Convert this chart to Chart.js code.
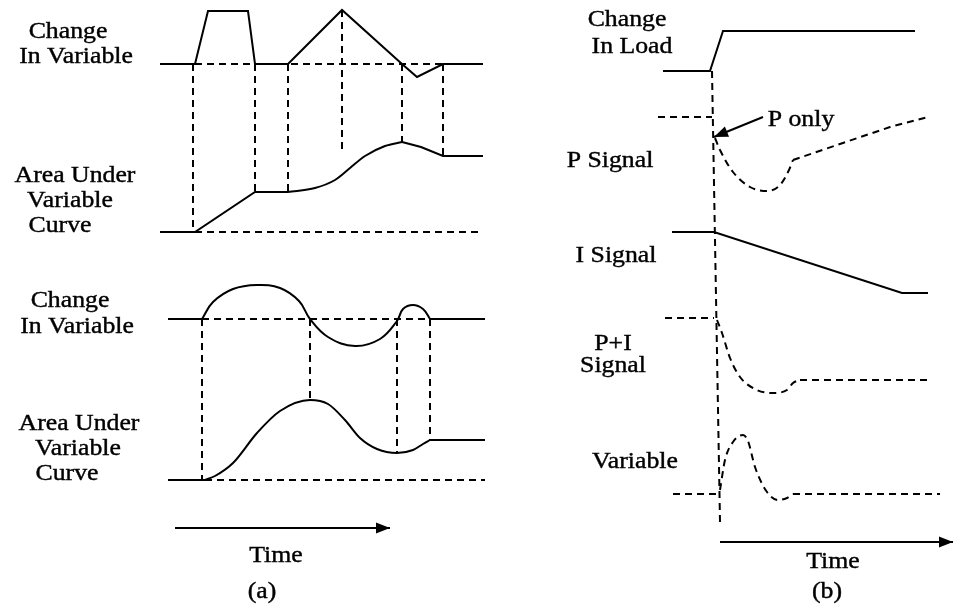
<!DOCTYPE html>
<html>
<head>
<meta charset="utf-8">
<script src="https://cdn.jsdelivr.net/npm/chart.js@4"></script>
<style>
html, body { margin: 0; padding: 0; background: #fff; }
#wrap { width: 954px; height: 608px; }
</style>
</head>
<body>
<div id="wrap"><canvas id="diagram"></canvas></div>
<script>
// (a) upper pair: rectangular / triangular change and its area
const aTopChange = [[160,64],[195,64],[208,11],[248,11],[255,64],[288,64],[342,10],[402,64],[417,77],[443,64],[483,64]];
const aTopAreaLine = [[160,232],[195,232],[255,192],[288,192]];
const aTopAreaCurve = [[288,192],[315,188],[335,180],[350,168],[365,156],[385,146],[402,142]];
const aTopAreaTail = [[402,142],[421,147],[443,156],[483,156]];
const aTopRef = [[195,64],[443,64]];
const aTopAreaRef = [[195,232],[483,232]];
const aTopDrops = [[193,64,232],[255,64,192],[288,64,192],[342,10,152],[402,64,142],[443,64,156]];

// (a) lower pair: smooth change and its area
const aBotChangeFlat1 = [[168,319],[202,319]];
const aBotChangeCurve = [[202,319],[213,302],[233,289],[257,285],[280,288],[299,301],[310,319],[328,337],[355,346],[380,339],[397,321],[403,309],[413,305],[423,309],[430,319]];
const aBotChangeFlat2 = [[430,319],[485,319]];
const aBotAreaFlat1 = [[168,480],[205,480]];
const aBotAreaCurve = [[205,480],[215,476],[233,463],[257,433],[280,411],[310,400],[328,404],[345,420],[360,438],[377,449],[397,453],[413,450],[423,444],[430,440]];
const aBotAreaFlat2 = [[430,440],[485,440]];
const aBotRef = [[202,319],[430,319]];
const aBotAreaRef = [[205,480],[485,480]];
const aBotDrops = [[202,319,480],[310,319,400],[397,319,453],[430,319,440]];

// (b) PI controller response to a load step
const bLoad = [[663,71],[710,71],[723,31],[915,31]];
const bStepLine = [[712,71],[720,522]];
const bPFlat = [[658,117],[712,117]];
const bPCurve = [[715,138],[720,150],[733,172],[750,187],[767,191],[780,185],[789,170],[793,160]];
const bPRamp = [[793,160],[890,127],[928,117]];
const bISignal = [[672,232],[714,232],[902,293],[928,293]];
const bPIFlat = [[665,318],[714,318]];
const bPICurve = [[717,320],[722,333],[730,358],[740,377],[757,390],[773,393],[787,390],[793,383],[800,380]];
const bPITail = [[800,380],[928,380]];
const bVarFlat = [[673,494],[717,494]];
const bVarCurve = [[720,490],[725,460],[733,442],[743,435],[748,441],[755,467],[767,492],[778,500],[787,498],[793,494]];
const bVarTail = [[793,494],[940,494]];

const arrows = [
    { from: [175,528], to: [390,528] },
    { from: [720,542], to: [953,542] },
    { from: [763,117], to: [714,137] }
];

const labels = [
    ['Change', 68, 38], ['In Variable', 76, 63],
    ['Area Under', 75, 182], ['Variable', 70, 207], ['Curve', 60, 232],
    ['Change', 70, 307], ['In Variable', 77, 333],
    ['Area Under', 79, 430], ['Variable', 78, 455], ['Curve', 67, 480],
    ['Time', 276, 562], ['(a)', 262, 598],
    ['Change', 627, 26], ['In Load', 632, 53],
    ['P only', 801, 126], ['P Signal', 610, 167],
    ['I Signal', 616, 262],
    ['P+I', 613, 350], ['Signal', 613, 372],
    ['Variable', 635, 468],
    ['Time', 833, 568], ['(b)', 827, 598]
];

const FONT = '23px "Liberation Serif", "Times New Roman", Times, serif';

const pts = arr => arr.map(p => ({ x: p[0], y: p[1] }));

// smooth: 'mono' for monotone splines, 'round' for plain bezier splines
function line(arr, dash, smooth) {
    return {
        data: pts(arr),
        borderDash: dash ? [7, 5] : [],
        cubicInterpolationMode: smooth === 'mono' ? 'monotone' : 'default',
        tension: smooth ? 0.4 : 0
    };
}
const solid = (arr, smooth) => line(arr, false, smooth);
const dashed = (arr, smooth) => line(arr, true, smooth);
const drops = list => list.map(d => dashed([[d[0], d[1]], [d[0], d[2]]]));

const datasets = [
    solid(aTopChange), solid(aTopAreaLine), solid(aTopAreaCurve, 'mono'), solid(aTopAreaTail),
    dashed(aTopRef), dashed(aTopAreaRef), ...drops(aTopDrops),
    solid(aBotChangeFlat1), solid(aBotChangeCurve, 'round'), solid(aBotChangeFlat2),
    solid(aBotAreaFlat1), solid(aBotAreaCurve, 'mono'), solid(aBotAreaFlat2),
    dashed(aBotRef), dashed(aBotAreaRef), ...drops(aBotDrops),
    solid(bLoad), dashed(bStepLine), dashed(bPFlat), dashed(bPCurve, 'mono'), dashed(bPRamp),
    solid(bISignal), dashed(bPIFlat), dashed(bPICurve, 'mono'), dashed(bPITail),
    dashed(bVarFlat), dashed(bVarCurve, 'mono'), dashed(bVarTail),
    ...arrows.map(a => solid([a.from, a.to]))
].map(ds => Object.assign({
    showLine: true,
    borderColor: '#000',
    borderWidth: 2,
    pointRadius: 0,
    fill: false,
    clip: false
}, ds));

// text labels and arrow heads
const annotate = {
    id: 'annotate',
    afterDatasetsDraw(chart) {
        const { ctx, scales: { x, y } } = chart;
        ctx.save();
        ctx.fillStyle = '#000';
        ctx.strokeStyle = '#000';
        arrows.forEach(a => {
            const tx = x.getPixelForValue(a.to[0]), ty = y.getPixelForValue(a.to[1]);
            const fx = x.getPixelForValue(a.from[0]), fy = y.getPixelForValue(a.from[1]);
            const ang = Math.atan2(ty - fy, tx - fx);
            const len = 14, half = 5.5;
            ctx.beginPath();
            ctx.moveTo(tx, ty);
            ctx.lineTo(tx - len * Math.cos(ang) + half * Math.sin(ang), ty - len * Math.sin(ang) - half * Math.cos(ang));
            ctx.lineTo(tx - len * Math.cos(ang) - half * Math.sin(ang), ty - len * Math.sin(ang) + half * Math.cos(ang));
            ctx.closePath();
            ctx.fill();
        });
        ctx.font = FONT;
        ctx.textAlign = 'center';
        ctx.textBaseline = 'alphabetic';
        ctx.lineWidth = 0.4;
        labels.forEach(l => {
            ctx.save();
            ctx.translate(x.getPixelForValue(l[1]), y.getPixelForValue(l[2]));
            ctx.scale(1.12, 1);
            ctx.fillText(l[0], 0, 0);
            ctx.strokeText(l[0], 0, 0);
            ctx.restore();
        });
        ctx.restore();
    }
};

function draw() {
    new Chart(document.getElementById('diagram'), {
        type: 'scatter',
        data: { datasets },
        options: {
            responsive: true,
            maintainAspectRatio: false,
            animation: false,
            layout: { padding: 0 },
            plugins: { legend: { display: false }, tooltip: { enabled: false } },
            scales: {
                x: { type: 'linear', min: 0, max: 954, display: false },
                y: { type: 'linear', min: 0, max: 608, reverse: true, display: false }
            }
        },
        plugins: [annotate]
    });
}

document.fonts.load(FONT).then(draw, draw);
</script>
</body>
</html>
